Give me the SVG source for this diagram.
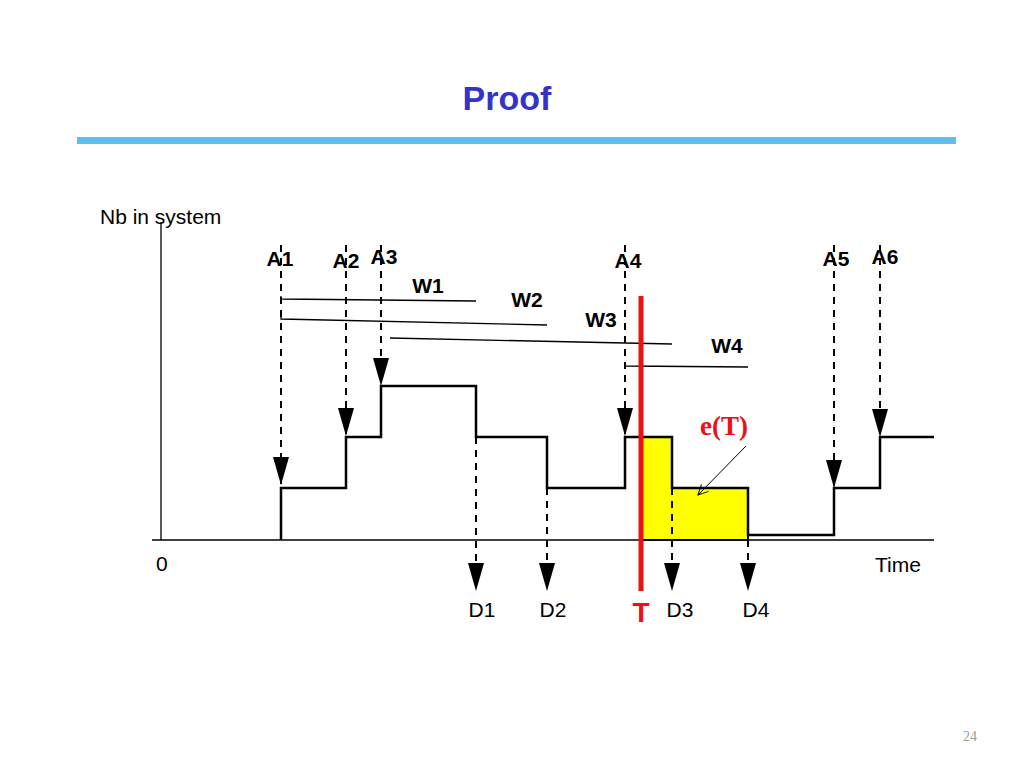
<svg xmlns="http://www.w3.org/2000/svg" width="1024" height="768" viewBox="0 0 1024 768">
<style>
.l{font-family:"Liberation Sans",Arial,sans-serif;font-size:21px;fill:#000}
.b{font-family:"Liberation Sans",Arial,sans-serif;font-size:21px;font-weight:bold;fill:#000}
.d{stroke:#000;stroke-width:2;stroke-dasharray:7,6;fill:none}
.w{stroke:#000;stroke-width:1.3;fill:none}
</style>
<defs>
<marker id="ah" markerWidth="28" markerHeight="16" refX="27" refY="8" orient="auto" markerUnits="userSpaceOnUse" viewBox="0 0 28 16"><path d="M0,0 L28,8 L0,16 Z" fill="#000"/></marker>
<marker id="oh" markerWidth="12" markerHeight="12" refX="10" refY="6" orient="auto" markerUnits="userSpaceOnUse"><path d="M0,1 L10,6 L0,11" fill="none" stroke="#000" stroke-width="1"/></marker>
</defs>
<rect width="1024" height="768" fill="#fff"/>
<text x="507" y="110" text-anchor="middle" font-family="Liberation Sans,Arial,sans-serif" font-size="34" font-weight="bold" fill="#3333cc">Proof</text>
<rect x="77" y="137" width="879" height="7" fill="#5bc0ee"/>
<g id="axes">
<line x1="161" y1="222" x2="161" y2="540" stroke="#000" stroke-width="1.3"/>
<line x1="152" y1="540" x2="934" y2="540" stroke="#000" stroke-width="1.3"/>
<text class="l" x="100" y="224">Nb in system</text>
<text class="l" x="156" y="571">0</text>
<text class="l" x="875" y="572">Time</text>
</g>
<g id="area"><path d="M641,437 H672 V488 H748 V540 H641 Z" fill="#ffff00" stroke="#000" stroke-width="2"/></g>
<g id="connectors">
<path class="w" d="M281,296 V299 L476,301"/>
<path class="w" d="M281,316 V319 L547,325"/>
<path class="w" d="M390,338 L672,344"/>
<path class="w" d="M625,363 V366 L748,367"/>
<line class="d" x1="281" y1="245" x2="281" y2="484" marker-end="url(#ah)"/>
<line class="d" x1="346" y1="245" x2="346" y2="435" marker-end="url(#ah)"/>
<line class="d" x1="381" y1="245" x2="381" y2="385" marker-end="url(#ah)"/>
<line class="d" x1="625" y1="245" x2="625" y2="435" marker-end="url(#ah)"/>
<line class="d" x1="834" y1="245" x2="834" y2="487" marker-end="url(#ah)"/>
<line class="d" x1="880" y1="245" x2="880" y2="436" marker-end="url(#ah)"/>
<line class="d" x1="476" y1="437" x2="476" y2="590" marker-end="url(#ah)"/>
<line class="d" x1="547" y1="488" x2="547" y2="590" marker-end="url(#ah)"/>
<line class="d" x1="672" y1="488" x2="672" y2="590" marker-end="url(#ah)"/>
<line class="d" x1="748" y1="540" x2="748" y2="590" marker-end="url(#ah)"/>
<path d="M281,540 V488 H346 V437 H381 V386 H476 V437 H547 V488 H625 V437 H672 V488 H748 V535 H834 V488 H880 V437 H934" fill="none" stroke="#000" stroke-width="2.5"/>
<line x1="746" y1="446" x2="698" y2="495" stroke="#000" stroke-width="1" marker-end="url(#oh)"/>
<line x1="641" y1="296" x2="641" y2="591" stroke="#ee1111" stroke-width="5"/>
</g>
<g id="labels">
<text class="b" x="280" y="266" text-anchor="middle">A1</text>
<text class="b" x="346" y="268" text-anchor="middle">A2</text>
<text class="b" x="384" y="264" text-anchor="middle">A3</text>
<text class="b" x="628" y="268" text-anchor="middle">A4</text>
<text class="b" x="836" y="266" text-anchor="middle">A5</text>
<text class="b" x="885" y="264" text-anchor="middle">A6</text>
<text class="b" x="428" y="293" text-anchor="middle">W1</text>
<text class="b" x="527" y="307" text-anchor="middle">W2</text>
<text class="b" x="601" y="327" text-anchor="middle">W3</text>
<text class="b" x="727" y="353" text-anchor="middle">W4</text>
<text class="l" x="482" y="617" text-anchor="middle">D1</text>
<text class="l" x="553" y="617" text-anchor="middle">D2</text>
<text class="l" x="680" y="617" text-anchor="middle">D3</text>
<text class="l" x="756" y="617" text-anchor="middle">D4</text>
<text x="641" y="622" text-anchor="middle" font-family="Liberation Sans,Arial,sans-serif" font-size="28" font-weight="bold" fill="#ee1111">T</text>
<text x="724" y="435" text-anchor="middle" font-family="Liberation Serif,Times New Roman,serif" font-size="27" font-weight="bold" fill="#ee1111">e(T)</text>
<text x="970" y="741" text-anchor="middle" font-family="Liberation Serif,serif" font-size="14" fill="#999">24</text>
</g>
</svg>
